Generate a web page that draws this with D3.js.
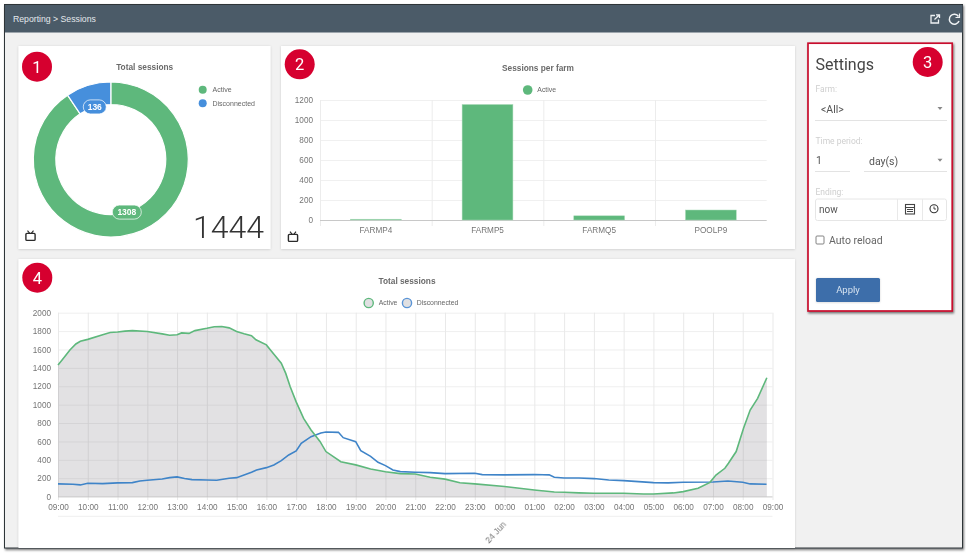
<!DOCTYPE html>
<html><head><meta charset="utf-8">
<script src="https://cdn.jsdelivr.net/npm/d3@7"></script>
<style>
html,body{margin:0;padding:0;background:#fff;overflow:hidden}
svg{display:block;filter:blur(.35px)}
text{font-family:"Liberation Sans",Arial,sans-serif}
.ui{font-family:Roboto,"Liberation Sans",sans-serif}
.domain{display:none}
</style></head><body>
<svg id="c" width="969" height="555"></svg>
<script>
const pageTitle="Reporting > Sessions";
const donutLabels=["Active","Disconnected"];
const donutValues=[1308,136];
const donutColors=["#5eb87c","#468fdc"];
const donutTotal="1444";
const farmNames=["FARMP4","FARMP5","FARMQ5","POOLP9"];
const farmValues=[8,1155,42,100];
const farmTicks=[0,200,400,600,800,1000,1200];
const lineTicks=[0,200,400,600,800,1000,1200,1400,1600,1800,2000];
const hourLabels=["09:00","10:00","11:00","12:00","13:00","14:00","15:00","16:00","17:00","18:00","19:00","20:00","21:00","22:00","23:00","00:00","01:00","02:00","03:00","04:00","05:00","06:00","07:00","08:00","09:00"];
const activeHours =[0,.15,.4,.6,.75,1,1.5,1.75,2,2.25,2.5,3,3.5,3.75,4,4.15,4.4,4.6,5,5.25,5.5,5.75,6,6.25,6.5,6.65,7,7.15,7.5,7.65,7.8,8,8.25,8.5,8.8,9,9.5,10,10.5,11,11.5,12,12.5,13,13.5,14,15,16,16.67,17,17.5,18,19,19.67,20,20.67,21,21.5,21.9,22.1,22.4,22.52,22.78,23.03,23.25,23.5,23.81];
const activeValues=[1430,1490,1594,1660,1690,1710,1760,1785,1790,1800,1805,1795,1770,1755,1760,1780,1775,1805,1830,1848,1850,1835,1795,1770,1750,1705,1650,1590,1450,1340,1195,1030,850,725,600,490,380,345,300,270,250,245,210,190,150,138,110,72,50,47,40,36,36,29,29,40,54,90,155,235,308,362,490,745,942,1069,1293];
const discoHours =[0,.5,.75,1,1.5,2,2.5,2.75,3,3.5,3.75,4,4.25,4.5,5,5.33,5.75,6,6.5,6.67,7,7.25,7.5,7.75,8,8.17,8.5,8.83,9,9.42,9.58,10,10.17,10.5,10.75,11,11.25,11.5,12,12.5,13,14,14.25,15,16,16.5,16.67,17,17.5,18,18.5,19,19.5,20,20.5,21,22,22.5,23,23.25,23.8];
const discoValues=[138,134,127,145,141,149,152,170,178,192,206,214,196,185,181,178,199,206,264,290,315,344,391,453,496,580,652,692,703,699,641,598,500,438,373,337,290,272,265,261,250,254,239,236,239,236,210,203,203,196,181,174,163,152,149,156,159,170,156,138,134];
const settingsLabels={title:"Settings",farm:"Farm:",farmValue:"<All>",period:"Time period:",periodValue:"1",periodUnit:"day(s)",ending:"Ending:",endingValue:"now",reload:"Auto reload",apply:"Apply"};

const svg=d3.select("#c");
const defs=svg.append("defs");
const sh=defs.append("filter").attr("id","sh").attr("x","-5%").attr("y","-5%").attr("width","110%").attr("height","110%");
sh.append("feDropShadow").attr("dx",1).attr("dy",1.5).attr("stdDeviation",1.2).attr("flood-color","#000").attr("flood-opacity",.55);
const cs=defs.append("filter").attr("id","cs").attr("x","-5%").attr("y","-5%").attr("width","110%").attr("height","110%");
cs.append("feDropShadow").attr("dx",0).attr("dy",.5).attr("stdDeviation",1).attr("flood-color","#000").attr("flood-opacity",.16);

// frame
svg.append("rect").attr("x",4.5).attr("y",4.5).attr("width",958).attr("height",543.5).attr("fill","#f1f1f1").attr("stroke","#2f3438").attr("stroke-width",1).attr("filter","url(#sh)");
svg.append("rect").attr("x",5).attr("y",5).attr("width",957.5).attr("height",27.5).attr("fill","#4b5b68");
svg.append("text").attr("x",13).attr("y",21.5).attr("font-size",8.7).attr("fill","#e4e8ec").text(pageTitle);
// header icons
const hi=svg.append("g").attr("fill","none").attr("stroke","#eef1f3").attr("stroke-width",1.3);
hi.append("path").attr("d","M935 15.5H931V23H938.5V19.5M934.5 19.5L939.5 14.8M936 14.8H939.5V18");
hi.append("path").attr("d","M958.5 16.5A5 5 0 1 0 959 21").attr("stroke-width",1.5);
hi.append("path").attr("d","M959.5 13.5V17.5H955.5").attr("stroke-width",1.2);

function card(x,y,w,h){svg.append("rect").attr("x",x).attr("y",y).attr("width",w).attr("height",h).attr("fill","#fff").attr("filter","url(#cs)");}
card(18.5,46,252,203);
card(281,46,514,203);
card(18.5,259,776.5,289);

function title(x,y,t){svg.append("text").attr("x",x).attr("y",y).attr("text-anchor","middle").attr("font-size",8.3).attr("font-weight","bold").attr("fill","#6a6a6a").text(t);}
function tv(x,y){
  const g=svg.append("g").attr("transform",`translate(${x},${y})`).attr("fill","none").attr("stroke","#2b2b2b").attr("stroke-width",1.4);
  g.append("rect").attr("x",-4.6).attr("y",-2.6).attr("width",9.2).attr("height",7).attr("rx",1);
  g.append("path").attr("d","M-3 -5.4L-.8 -2.6M3 -5.4L.8 -2.6").attr("stroke-width",1.1);
}
const tickColor="#757575";

// --- donut
title(144.7,70,"Total sessions");
const dg=svg.append("g").attr("transform","translate(110.8,159.5)");
const pie=d3.pie().sort(null)(donutValues);
const arc=d3.arc().innerRadius(55).outerRadius(77.5);
dg.selectAll("path").data(pie).join("path").attr("d",arc).attr("fill",(d,i)=>donutColors[i]).attr("stroke","#fff").attr("stroke-width",1.2);
const labelArc=d3.arc().innerRadius(55).outerRadius(55);
dg.selectAll("g.l").data(pie).join("g").attr("class","l").attr("transform",d=>`translate(${labelArc.centroid(d)})`).each(function(d,i){
  const g=d3.select(this);const w=i==0?29:23;
  g.append("rect").attr("x",-w/2).attr("y",-7).attr("width",w).attr("height",14).attr("rx",7).attr("fill",donutColors[i]).attr("stroke","#fff").attr("stroke-width",.7);
  g.append("text").attr("y",3).attr("text-anchor","middle").attr("font-size",8.5).attr("font-weight","bold").attr("fill","#fff").text(d.data);
});
donutLabels.forEach((t,i)=>{
  const y=89.7+i*13.6;
  svg.append("circle").attr("cx",202.7).attr("cy",y).attr("r",4).attr("fill",donutColors[i]);
  svg.append("text").attr("x",212.5).attr("y",y+2.4).attr("font-size",7).attr("fill","#666").text(t);
});
svg.append("text").attr("class","ui").attr("x",264).attr("y",237.5).attr("text-anchor","end").attr("font-size",32).attr("font-weight",300).attr("fill","#333").text(donutTotal);
tv(30.5,236);

// --- bars
title(538,70.5,"Sessions per farm");
svg.append("circle").attr("cx",527.7).attr("cy",90).attr("r",4.8).attr("fill","#5eb87c");
svg.append("text").attr("x",537.3).attr("y",92.4).attr("font-size",6.9).attr("fill","#666").text("Active");
const bx=d3.scaleBand().domain(farmNames).range([320,766.7]).paddingInner(.545).paddingOuter(.2725);
const by=d3.scaleLinear().domain([0,1200]).range([220,100]);
const stepB=bx.step();
const bg=svg.append("g");
bg.append("g").attr("stroke","#f0f0f0").selectAll("line").data(farmTicks.slice(1)).join("line").attr("x1",320).attr("x2",766.7).attr("y1",d=>by(d)+.5).attr("y2",d=>by(d)+.5);
bg.append("g").attr("stroke","#ececec").selectAll("line").data(farmNames).join("line").attr("x1",d=>bx(d)-stepB*.2725+.5).attr("x2",d=>bx(d)-stepB*.2725+.5).attr("y1",100).attr("y2",226);
bg.append("line").attr("x1",320).attr("x2",766.7).attr("y1",220.5).attr("y2",220.5).attr("stroke","#c8c8c8");
svg.append("g").selectAll("rect").data(farmValues).join("rect").attr("x",(d,i)=>bx(farmNames[i])).attr("width",bx.bandwidth()).attr("y",d=>by(d)).attr("height",d=>220-by(d)).attr("fill","#5eb87c").attr("stroke","#a9d9b8").attr("stroke-width",.5);
const ayB=svg.append("g").attr("transform","translate(320,0)").call(d3.axisLeft(by).tickValues(farmTicks).tickFormat(d3.format("d")).tickSize(0).tickPadding(7));
const axB=svg.append("g").attr("transform","translate(0,220)").call(d3.axisBottom(bx).tickSize(0).tickPadding(7));
[ayB,axB].forEach(a=>a.selectAll("text").attr("font-size",8.2).attr("font-family","Liberation Sans").attr("fill",tickColor));
tv(293,237);

// --- line chart
title(407,283.5,"Total sessions");
const t0=new Date(2019,5,23,9,0,0);
const toDate=h=>new Date(+t0+h*3600000);
const lx=d3.scaleTime().domain([t0,toDate(24)]).range([58,772.5]);
const ly=d3.scaleLinear().domain([0,2000]).range([496.6,312.7]);
const hours=hourLabels.map((d,i)=>toDate(i));
const lg=svg.append("g");
lg.append("g").attr("stroke","#efefef").selectAll("line").data(lineTicks.slice(1)).join("line").attr("x1",58).attr("x2",772.5).attr("y1",d=>ly(d)+.5).attr("y2",d=>ly(d)+.5);
lg.append("g").attr("stroke","#e9e9e9").selectAll("line").data(hours).join("line").attr("x1",d=>lx(d)+.5).attr("x2",d=>lx(d)+.5).attr("y1",312.7).attr("y2",500);
lg.append("line").attr("x1",58).attr("x2",772.5).attr("y1",496.9).attr("y2",496.9).attr("stroke","#c8c8c8");
lg.append("line").attr("x1",58).attr("x2",772.5).attr("y1",516.3).attr("y2",516.3).attr("stroke","#efefef");
const activeData=activeHours.map((h,i)=>({t:toDate(h),v:activeValues[i]}));
const discoData=discoHours.map((h,i)=>({t:toDate(h),v:discoValues[i]}));
svg.append("path").datum(activeData).attr("fill","#6f6a75").attr("fill-opacity",.2).attr("d",d3.area().x(d=>lx(d.t)).y0(ly(0)).y1(d=>ly(d.v)));
const line=d3.line().x(d=>lx(d.t)).y(d=>ly(d.v));
svg.append("path").datum(discoData).attr("fill","none").attr("stroke","#3f84c8").attr("stroke-width",1.6).attr("d",line);
svg.append("path").datum(activeData).attr("fill","none").attr("stroke","#5eb87c").attr("stroke-width",1.6).attr("d",line);
const ayL=svg.append("g").attr("transform","translate(58,0)").call(d3.axisLeft(ly).tickValues(lineTicks).tickFormat(d3.format("d")).tickSize(0).tickPadding(7));
const axL=svg.append("g").attr("transform","translate(0,496.6)").call(d3.axisBottom(lx).tickValues(hours).tickFormat((d,i)=>hourLabels[i]).tickSize(0).tickPadding(8));
[ayL,axL].forEach(a=>a.selectAll("text").attr("font-size",8.2).attr("font-family","Liberation Sans").attr("fill",tickColor));
svg.append("text").attr("transform",`translate(${lx(toDate(15))+2},525) rotate(-47)`).attr("text-anchor","end").attr("font-size",8.6).attr("fill",tickColor).text("24 Jun");
[["Active","#5eb87c",368.7,378.7],["Disconnected","#5a94d6",407,416.7]].forEach(([t,c,cx,tx])=>{
  svg.append("circle").attr("cx",cx).attr("cy",303).attr("r",4.6).attr("fill","#e0e0e2").attr("stroke",c).attr("stroke-width",1.4);
  svg.append("text").attr("x",tx).attr("y",305.4).attr("font-size",6.9).attr("fill","#666").text(t);
});

// --- settings
svg.append("rect").attr("x",808).attr("y",43.2).attr("width",144.2).attr("height",267.8).attr("fill","#fff").attr("stroke","#c8102e").attr("stroke-width",1.7).attr("filter","url(#sh)");
const s=svg.append("g").attr("class","ui");
const T=(x,y,sz,c,t,a)=>s.append("text").attr("class","ui").attr("x",x).attr("y",y).attr("font-size",sz).attr("fill",c).attr("text-anchor",a||"start").text(t);
const R=(x1,y1,x2,y2,c)=>s.append("line").attr("x1",x1).attr("x2",x2).attr("y1",y1).attr("y2",y2).attr("stroke",c);
T(815.5,69.5,16,"#444",settingsLabels.title);
T(815.5,92,8.5,"#cfcfcf",settingsLabels.farm);
T(821,113,10.5,"#555",settingsLabels.farmValue);
R(815,120.5,947,120.5,"#e3e3e3");
T(815.5,144,8.5,"#cfcfcf",settingsLabels.period);
T(816,164,10.5,"#555",settingsLabels.periodValue);
R(815,171.5,850,171.5,"#e3e3e3");
T(869,165,10.5,"#555",settingsLabels.periodUnit);
R(864,171.5,947,171.5,"#e3e3e3");
T(815.5,195,8.5,"#cfcfcf",settingsLabels.ending);
s.append("path").attr("d","M937.5 107H942.5L940 110ZM937.5 158.7H942.5L940 161.7Z").attr("fill","#888");
s.append("rect").attr("x",815.5).attr("y",199).attr("width",131).attr("height",21.5).attr("rx",2).attr("fill","#fff").attr("stroke","#e6e6e6");
R(897.5,199,897.5,220.5,"#e9e9e9");R(922.5,199,922.5,220.5,"#e9e9e9");
T(819,213,10,"#555",settingsLabels.endingValue);
s.append("rect").attr("x",905.5).attr("y",204.5).attr("width",9).attr("height",9.5).attr("fill","#fff").attr("stroke","#444").attr("stroke-width",1.1);
s.append("path").attr("d","M905.5 207.5H914.5M907 209.5H913M907 211.5H913").attr("stroke","#444").attr("stroke-width",1);
s.append("circle").attr("cx",934).attr("cy",208.8).attr("r",4).attr("fill","#fff").attr("stroke","#333").attr("stroke-width",1.1);
s.append("path").attr("d","M934 206.5V209H936").attr("fill","none").attr("stroke","#333").attr("stroke-width",.9);
s.append("rect").attr("x",816).attr("y",236).attr("width",8).attr("height",8).attr("rx",1).attr("fill","#fff").attr("stroke","#777").attr("stroke-width",.9);
T(829,244,10.5,"#666",settingsLabels.reload);
s.append("rect").attr("x",816).attr("y",278).attr("width",64).attr("height",24).attr("rx",1.5).attr("fill","#3c6eaa").attr("filter","url(#cs)");
T(848,293,9.5,"#d5e2f0",settingsLabels.apply,"middle");

// --- badges
[[37,66.7,"1"],[299.7,64.3,"2"],[927.7,62,"3"],[37.3,277.7,"4"]].forEach(([x,y,t])=>{
  svg.append("circle").attr("cx",x).attr("cy",y).attr("r",15).attr("fill","#d6002f");
  svg.append("text").attr("class","ui").attr("x",x).attr("y",y+6).attr("text-anchor","middle").attr("font-size",16.5).attr("fill","#fff").text(t);
});
</script>
</body></html>
